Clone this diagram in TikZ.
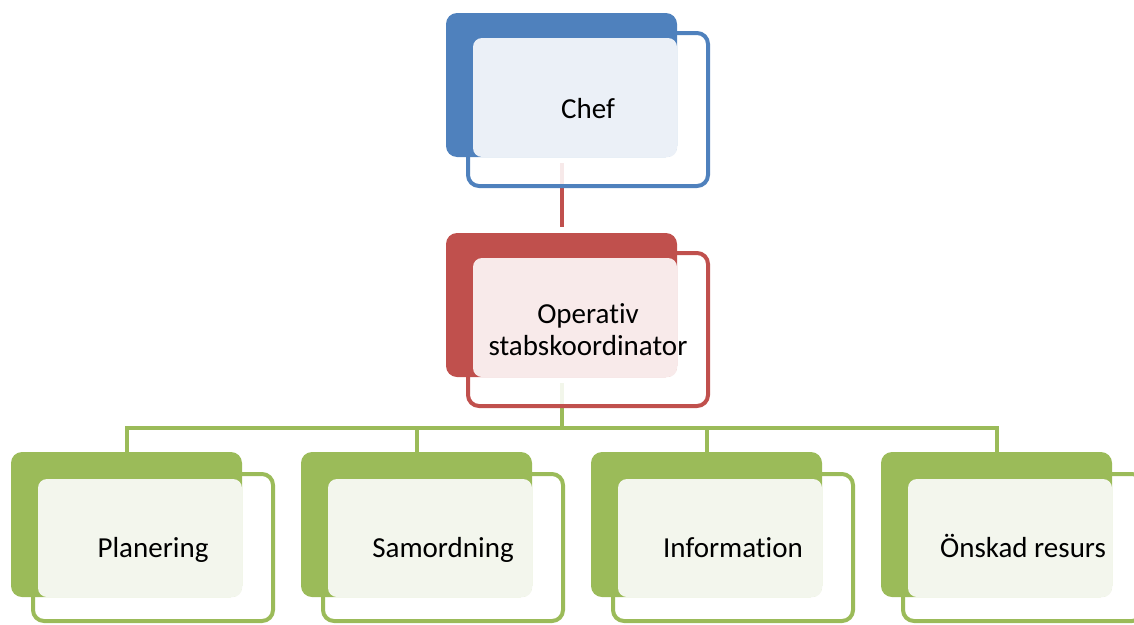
\documentclass[tikz,border=0pt]{standalone}
\usepackage{fontspec}
\setmainfont{Carlito}[Ligatures=NoCommon]
\usetikzlibrary{backgrounds}
\definecolor{cblue}{HTML}{4F81BD}
\definecolor{cred}{HTML}{C0504D}
\definecolor{cgreen}{HTML}{9BBB59}
\definecolor{tblue}{HTML}{EBF0F7}
\definecolor{tred}{HTML}{F8EAEA}
\definecolor{tgreen}{HTML}{F3F6ED}
\tikzset{
  frontbox/.style={draw=#1, line width=4pt, fill=white, fill opacity=0.88, draw opacity=1, rounded corners=11pt, minimum width=240pt, minimum height=153pt, inner sep=0pt},
  backbox/.style={fill=#1, rounded corners=11pt, minimum width=231pt, minimum height=144pt, inner sep=0pt},
  tint/.style={fill=#1, rounded corners=9pt},
  conn/.style={draw=#1, line width=4pt},
  label/.style={font=\fontsize{29pt}{32pt}\selectfont, align=center, inner sep=0pt},
}
\begin{document}
\begin{tikzpicture}[x=1pt,y=-1pt]
\useasboundingbox (0,0) rectangle (1134,624);

% Chef
\node[frontbox=cblue] (chefF) at (588,109.5) {};
\node[backbox=cblue] (chefB) at (561.5,85) {};
\fill[tint=tblue] (473,38) rectangle (677,157);
\node[label, anchor=base] (chefT) at (588,118) {Chef};

% Operativ
\node[frontbox=cred] (opF) at (588,329.5) {};
\node[backbox=cred] (opB) at (561.5,305) {};
\fill[tint=tred] (473,258) rectangle (677,377);
\node[label] (opT) at (588,329.5) {Operat\kern0pt iv\\stabskoordinator};

% Green boxes
\foreach \bx/\nm/\txt in {11/pl/Planering, 301/sa/Samordning, 591/in/Informat\kern0pt ion, 881/on/Önskad resurs}{
  \node[frontbox=cgreen, fill opacity=1, minimum height=147pt] (\nm F) at (\bx+142,547.5) {};
  \node[backbox=cgreen, minimum height=145pt] (\nm B) at (\bx+115.5,524.5) {};
  \fill[tint=tgreen] (\bx+27,479) rectangle (\bx+231,597);
  \node[label, anchor=base] (\nm T) at (\bx+142,557) {\txt};
}

% connectors, behind the boxes
\begin{pgfonlayer}{background}
\draw[conn=cred] ([yshift=-6pt]chefB.south) -- ([yshift=6pt]opB.north);
\coordinate (gbus) at ([yshift=-51pt]opB.south);
\draw[conn=cgreen] ([yshift=-6pt]opB.south) -- (gbus);
\foreach \nm in {pl,sa,in,on}{
  \draw[conn=cgreen] (gbus) -| (\nm B.north);
}
\end{pgfonlayer}
\end{tikzpicture}
\end{document}
